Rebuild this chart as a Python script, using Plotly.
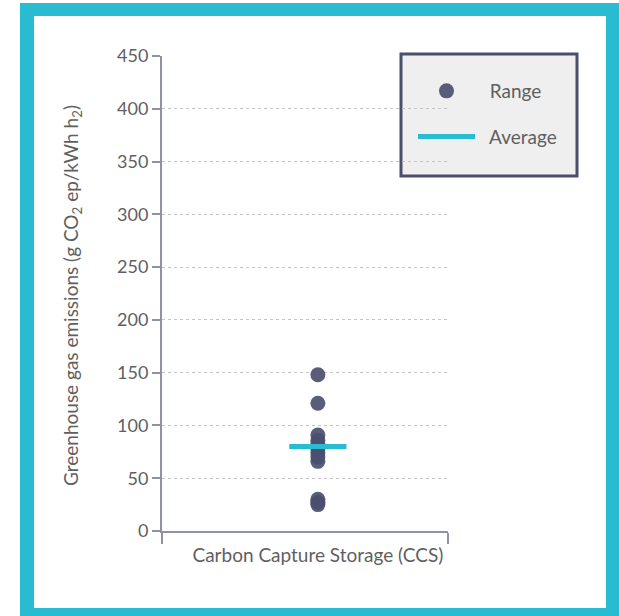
import plotly.graph_objects as go

categories = ["Carbon Capture Storage (CCS)"]
range_values = [148, 121, 91, 86, 82, 78, 74, 70, 66, 30, 27, 25]
average_values = [80]
y_ticks = [0, 50, 100, 150, 200, 250, 300, 350, 400, 450]

W, H = 619, 616
L, R, T, B = 162, 171, 56, 85
pw, ph = W - L - R, H - T - B
XR = [-0.545, 0.455]

def px_x(p):
    return (p - L) / pw

def px_y(p):
    return (H - B - p) / ph

DOT = "#4b4f6e"
TEAL = "#27bcd2"
AXIS = "#8e92a8"
TXT = "#5f5f5f"
FONT = "Lato, Open Sans, sans-serif"
NB = "\u00a0"

fig = go.Figure()
fig.add_trace(go.Scatter(
    x=[0] * len(range_values), y=range_values, mode="markers",
    name=NB * 2 + "Range",
    marker=dict(color=DOT, size=15, opacity=0.92, line=dict(width=0)),
    legendgroup="a",
))
half = 0.1
for i, v in enumerate(average_values):
    fig.add_trace(go.Scatter(
        x=[i - half, i + half], y=[v, v], mode="lines", name=NB * 2 + "Average",
        line=dict(color=TEAL, width=5), legendgroup="b",
    ))

shapes = [
    dict(type="rect", xref="paper", yref="paper", x0=px_x(20), x1=px_x(640),
         y0=px_y(640), y1=px_y(3), fillcolor=TEAL, line=dict(width=0), layer="below"),
    dict(type="rect", xref="paper", yref="paper", x0=px_x(34), x1=px_x(606),
         y0=px_y(608), y1=px_y(16), fillcolor="white", line=dict(width=0), layer="below"),
    dict(type="rect", xref="paper", yref="paper", x0=px_x(401), x1=px_x(577),
         y0=px_y(176), y1=px_y(54), fillcolor="#efefef",
         line=dict(color="#4b4f6e", width=3), layer="below"),
]

annotations = [
    dict(text="Greenhouse gas emissions (g CO<sub>2</sub> ep/kWh h<sub>2</sub>)",
         textangle=-90, xref="paper", yref="paper", x=px_x(72), y=px_y(296),
         xanchor="center", yanchor="middle", showarrow=False,
         font=dict(size=19, color=TXT, family=FONT)),
]

fig.update_layout(
    width=W, height=H,
    margin=dict(l=L, r=R, t=T, b=B),
    paper_bgcolor="white", plot_bgcolor="rgba(0,0,0,0)",
    font=dict(family=FONT, color=TXT, size=18),
    shapes=shapes, annotations=annotations,
    showlegend=True,
    legend=dict(x=px_x(413), y=px_y(72), xanchor="left", yanchor="top",
                bgcolor="rgba(0,0,0,0)", borderwidth=0, itemwidth=57,
                tracegroupgap=18, traceorder="grouped",
                font=dict(size=19, color=TXT, family=FONT)),
    xaxis=dict(range=XR, tickvals=[0], ticktext=categories, ticks="", ticklen=0,
               showgrid=False, zeroline=False, showline=True, linecolor=AXIS,
               linewidth=2, tickfont=dict(size=19, color=TXT),
               ticklabelstandoff=6,
               minor=dict(tickvals=XR, ticks="outside", ticklen=11, tickwidth=2,
                          tickcolor=AXIS, showgrid=False),
               fixedrange=True),
    yaxis=dict(range=[0, 450], tickvals=y_ticks, ticks="outside", ticklen=8,
               tickwidth=2, tickcolor=AXIS, showline=True, linecolor=AXIS,
               linewidth=2, showgrid=True, gridcolor="#c4c4c4", griddash="dot",
               gridwidth=1, zeroline=False, tickfont=dict(size=18, color=TXT),
               fixedrange=True),
)

fig.write_html("out.html", config={"displayModeBar": False},
               post_script="document.body.style.margin='0';document.body.style.overflow='hidden';")
